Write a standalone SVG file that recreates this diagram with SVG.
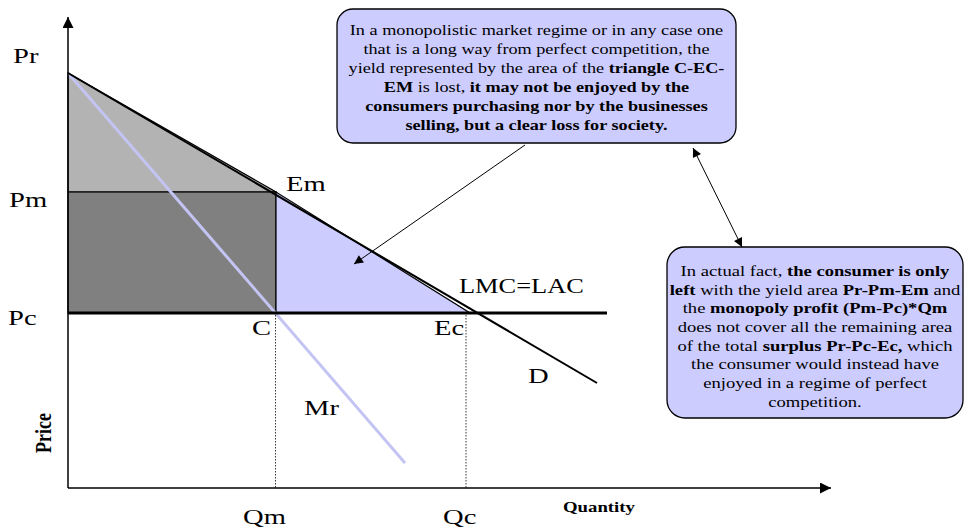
<svg xmlns="http://www.w3.org/2000/svg" width="967" height="531" viewBox="0 0 967 531">
<style>
.lbl{font-family:"Liberation Serif","Times New Roman",serif;font-size:22px;fill:#000}
.box{fill:#ccccff;stroke:#000;stroke-width:1.3}
.bt{font-family:"Liberation Serif","Times New Roman",serif;fill:#000;text-anchor:middle}
.b{font-weight:bold}
.ax{stroke:#000;stroke-width:1.5;fill:none}
.dot{stroke:#000;stroke-width:0.8;stroke-dasharray:1.5,1.5;fill:none}
.con{stroke:#000;stroke-width:1;fill:none}
</style>
<defs>
<marker id="ah" viewBox="0 0 10 10" refX="10" refY="5" markerWidth="11" markerHeight="9" markerUnits="userSpaceOnUse" orient="auto-start-reverse"><path d="M0,0 L10,5 L0,10 z" fill="#000"/></marker>
<marker id="axh" viewBox="0 0 10 10" refX="10" refY="5" markerWidth="12" markerHeight="11" markerUnits="userSpaceOnUse" orient="auto"><path d="M0,0 L10,5 L0,10 z" fill="#000"/></marker>
</defs>
<rect width="967" height="531" fill="#fff"/>

<g id="chart">
<polygon points="68,73 68,192 276,192" fill="#b3b3b3" stroke="#000" stroke-width="1.2"/>
<rect x="68" y="192" width="208" height="121" fill="#808080" stroke="#000" stroke-width="1.2"/>
<polygon points="276,192 276,313 470,313" fill="#ccccff" stroke="#000" stroke-width="1.2"/>
<line x1="68" y1="73" x2="405" y2="463" stroke="#c4c4f4" stroke-width="3"/>
<line x1="68" y1="73" x2="597" y2="383" stroke="#000" stroke-width="2"/>
<line x1="68" y1="313" x2="607" y2="313" stroke="#000" stroke-width="3"/>
<line class="dot" x1="275.5" y1="315" x2="275.5" y2="488"/>
<line class="dot" x1="466" y1="315" x2="466" y2="488"/>
<line class="ax" x1="68" y1="488" x2="68" y2="17" marker-end="url(#axh)"/>
<line class="ax" x1="68" y1="488" x2="831" y2="488" marker-end="url(#axh)"/>
</g>

<g id="labels">
<text class="lbl" transform="translate(13,63) scale(1.3,1)">Pr</text>
<text class="lbl" transform="translate(9,207) scale(1.3,1)">Pm</text>
<text class="lbl" transform="translate(8,325) scale(1.3,1)">Pc</text>
<text class="lbl" transform="translate(286,191) scale(1.3,1)">Em</text>
<text class="lbl" transform="translate(252,335) scale(1.3,1)">C</text>
<text class="lbl" transform="translate(434,335) scale(1.3,1)">Ec</text>
<text class="lbl" transform="translate(459,293) scale(1.2,1)">LMC=LAC</text>
<text class="lbl" transform="translate(528,383) scale(1.3,1)">D</text>
<text class="lbl" transform="translate(304,415) scale(1.3,1)">Mr</text>
<text class="lbl" transform="translate(243,524) scale(1.3,1)">Qm</text>
<text class="lbl" transform="translate(443,524) scale(1.3,1)">Qc</text>
<text class="lbl b" style="font-size:14px" transform="translate(563,512) scale(1.34,1)">Quantity</text>
<text class="lbl b" style="font-size:18px" transform="translate(51,453) scale(1.3,1) rotate(-90)">Price</text>
</g>

<g id="box1">
<rect class="box" x="337" y="9" width="399" height="134" rx="16" ry="16"/>
<g transform="translate(536.5,0) scale(1.32,1)" class="bt" style="font-size:13.8px">
<text x="0" y="35">In a monopolistic market regime or in any case one</text>
<text x="0" y="54">that is a long way from perfect competition, the</text>
<text x="0" y="73">yield represented by the area of the <tspan class="b">triangle C-EC-</tspan></text>
<text x="0" y="92"><tspan class="b">EM</tspan> is lost, <tspan class="b">it may not be enjoyed by the</tspan></text>
<text x="0" y="111"><tspan class="b">consumers purchasing nor by the businesses</tspan></text>
<text x="0" y="130"><tspan class="b">selling, but a clear loss for society.</tspan></text>
</g>
</g>

<g id="box2">
<rect class="box" x="667" y="247" width="296" height="171" rx="18" ry="18"/>
<g transform="translate(815,0) scale(1.32,1)" class="bt" style="font-size:14.1px">
<text x="0" y="276">In actual fact, <tspan class="b">the consumer is only</tspan></text>
<text x="0" y="294.7"><tspan class="b">left</tspan> with the yield area <tspan class="b">Pr-Pm-Em</tspan> and</text>
<text x="0" y="313.4">the <tspan class="b">monopoly profit (Pm-Pc)*Qm</tspan></text>
<text x="0" y="332">does not cover all the remaining area</text>
<text x="0" y="350.8">of the total <tspan class="b">surplus Pr-Pc-Ec,</tspan> which</text>
<text x="0" y="369.5">the consumer would instead have</text>
<text x="0" y="388">enjoyed in a regime of perfect</text>
<text x="0" y="407">competition.</text>
</g>
</g>

<g id="connectors">
<line class="con" x1="525" y1="145" x2="354" y2="264" marker-end="url(#ah)"/>
<line class="con" x1="693" y1="148" x2="742" y2="247" marker-start="url(#ah)" marker-end="url(#ah)"/>
</g>
</svg>
